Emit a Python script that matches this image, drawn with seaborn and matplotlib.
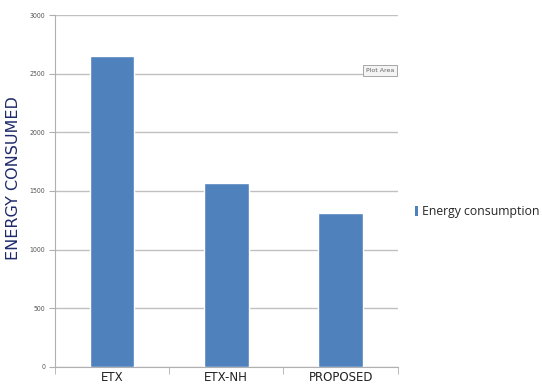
import seaborn as sns
import pandas as pd
from matplotlib import pyplot as plt
from matplotlib.patches import Patch

methods = ["ETX", "ETX-NH", "PROPOSED"]
energy = [2650, 1570, 1310]
yticks = [0, 500, 1000, 1500, 2000, 2500, 3000]

df = pd.DataFrame({"Method": methods, "Energy": energy})

sns.set_style("white")
fig = plt.figure(figsize=(5.42, 3.85), dpi=100)
ax = fig.add_axes([0.101, 0.047, 0.633, 0.914])

sns.barplot(data=df, x="Method", y="Energy", color="#4f81bd", saturation=1,
            width=0.39, ax=ax, zorder=3)

ax.set_ylim(0, 3000)
ax.set_xlim(-0.5, 2.5)
ax.set_yticks(yticks)
ax.set_yticklabels([str(t) for t in yticks], fontsize=5, color="#555555",
                   fontstretch="condensed")
ax.yaxis.grid(True, color="#c0c0c0", linewidth=1, zorder=0)
ax.tick_params(axis="y", length=4, color="#b0b0b0", pad=3, left=True)

# x ticks at category boundaries, labels centred under bars
ax.set_xticks([-0.5, 0.5, 1.5, 2.5], minor=True)
ax.tick_params(axis="x", which="minor", length=5, color="#b0b0b0", bottom=True)
ax.tick_params(axis="x", which="major", length=0, pad=3)
ax.set_xticks(range(len(methods)))
ax.set_xticklabels(methods, fontsize=8.5, color="#222222")

for side in ["top", "right"]:
    ax.spines[side].set_visible(False)
ax.spines["left"].set_color("#b0b0b0")
ax.spines["bottom"].set_color("#b0b0b0")

ax.set_xlabel("")
ax.set_ylabel("ENERGY CONSUMED", fontsize=11.5, color="#1f2a6b")
ax.yaxis.set_label_coords(-0.097, 0.537)

# "Plot Area" tooltip
ax.text(2.22, 2530, "Plot Area", fontsize=4.5, color="#666666", va="center", ha="left",
        bbox=dict(boxstyle="square,pad=0.5", fc="#f4f4f4", ec="#999999", lw=0.6),
        clip_on=False, zorder=5)

handles = [Patch(facecolor="#4f81bd", edgecolor="none")]
fig.legend(handles, ["Energy consumption"], loc="center left",
           bbox_to_anchor=(0.745, 0.45), frameon=False,
           handlelength=0.25, handleheight=0.8, handletextpad=0.3,
           prop={"family": "Open Sans", "size": 8.8})

plt.savefig("out.png", dpi=100)
